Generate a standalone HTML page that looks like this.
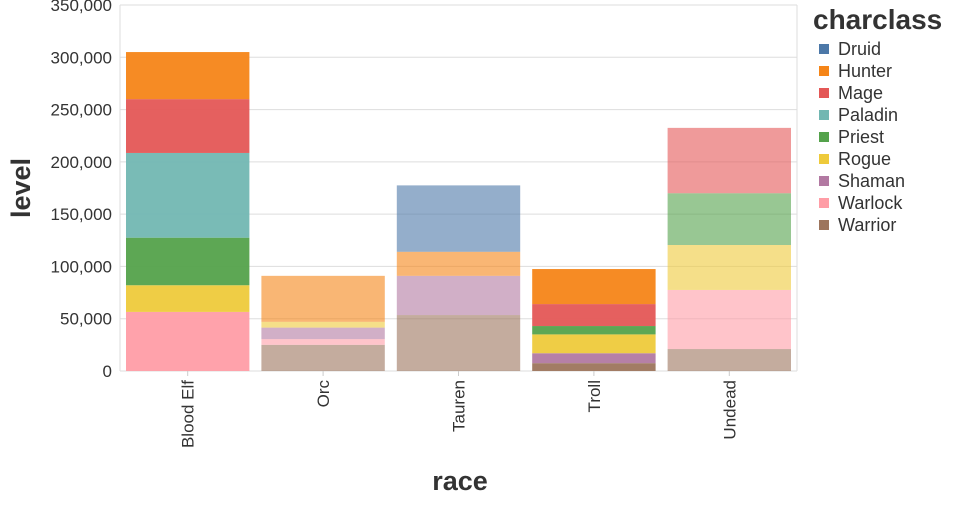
<!DOCTYPE html>
<html><head><meta charset="utf-8"><style>
body{margin:0;background:#fff;font-family:"Liberation Sans",sans-serif}
svg text{font-family:"Liberation Sans",sans-serif;fill:#333}
</style></head><body>
<svg id="c" width="960" height="500"></svg>
<script>
const races=["Blood Elf","Orc","Tauren","Troll","Undead"];
const classes=["Druid","Hunter","Mage","Paladin","Priest","Rogue","Shaman","Warlock","Warrior"];
const colors=["#4c78a8","#f58518","#e45756","#72b7b2","#54a24b","#eeca3b","#b279a2","#ff9da6","#9d755d"];
const stackOrder=["Warrior","Warlock","Shaman","Rogue","Priest","Paladin","Mage","Hunter","Druid"];
const bloodElf={Warlock:56500,Rogue:25500,Priest:45500,Paladin:81000,Mage:51500,Hunter:45000};
const orc={Warrior:25000,Warlock:5500,Shaman:11000,Rogue:5500,Hunter:44000};
const tauren={Warrior:53500,Shaman:37500,Hunter:23000,Druid:63500};
const troll={Warrior:7500,Shaman:9500,Rogue:18000,Priest:8000,Mage:21000,Hunter:33500};
const undead={Warrior:21000,Warlock:56500,Rogue:43000,Priest:49500,Mage:62500};
const raceData=[bloodElf,orc,tauren,troll,undead];
const barOpacity=[0.95,0.6,0.6,0.95,0.6];
const yTicks=[0,50000,100000,150000,200000,250000,300000,350000];
const yMax=350000;

const NS="http://www.w3.org/2000/svg";
const svg=document.getElementById('c');
const X0=120,X1=797,Y0=371,Y1=5;
const band=(X1-X0)/races.length, pad=6;
const y=v=>Y0-(v/yMax)*(Y0-Y1);
const xb=i=>X0+i*band;
function mk(t,a,p){const e=document.createElementNS(NS,t);for(const k in a)e.setAttribute(k,a[k]);(p||svg).appendChild(e);return e;}

// grid & y ticks
yTicks.forEach(v=>{
  const g=mk('line',{x1:X0,x2:X1,y1:y(v),y2:y(v),stroke:'#ddd'});
  
  
  const t=mk('text',{x:X0-8,y:y(v)+6,'text-anchor':'end','font-size':17});
  t.textContent=v.toLocaleString('en-US');
  
  
});
mk('line',{x1:X0,x2:X0,y1:Y1,y2:Y0,stroke:'#ddd'});
mk('line',{x1:X1,x2:X1,y1:Y1,y2:Y0,stroke:'#ddd'});
mk('line',{x1:X0,x2:X1,y1:Y0,y2:Y0,stroke:'#ddd'});

// bars
raceData.forEach((d,i)=>{
  let acc=0;
  stackOrder.forEach(c=>{
    const v=d[c]||0; if(!v) return;
    const r=mk('rect',{x:xb(i)+pad,width:band-2*pad,y:y(acc+v),height:y(acc)-y(acc+v),fill:colors[classes.indexOf(c)],opacity:barOpacity[i]});
    
    
    acc+=v;
  });
  const cx=xb(i)+band/2;
  mk('line',{x1:cx,x2:cx,y1:Y0,y2:Y0+5,stroke:'#ccc'});
  const t=mk('text',{x:0,y:0,'text-anchor':'end','font-size':17,transform:`translate(${cx+6},${Y0+9}) rotate(-90)`});
  t.textContent=races[i];
  
  
});

let t=mk('text',{x:460,y:490,'text-anchor':'middle','font-size':27,'font-weight':'bold'});
t.textContent='race';


t=mk('text',{x:0,y:0,'text-anchor':'middle','font-size':27,'font-weight':'bold',transform:'translate(30,188) rotate(-90)'});
t.textContent='level';



// legend
t=mk('text',{x:813,y:29,'font-size':28,'font-weight':'bold'});
t.textContent='charclass';


classes.forEach((c,k)=>{
  const yy=49+k*22;
  const s=mk('rect',{x:819,y:yy-5,width:10,height:10,fill:colors[k]});
  
  
  const l=mk('text',{x:838,y:yy+6,'font-size':18});
  l.textContent=c;
  
  
});
</script>
</body></html>
